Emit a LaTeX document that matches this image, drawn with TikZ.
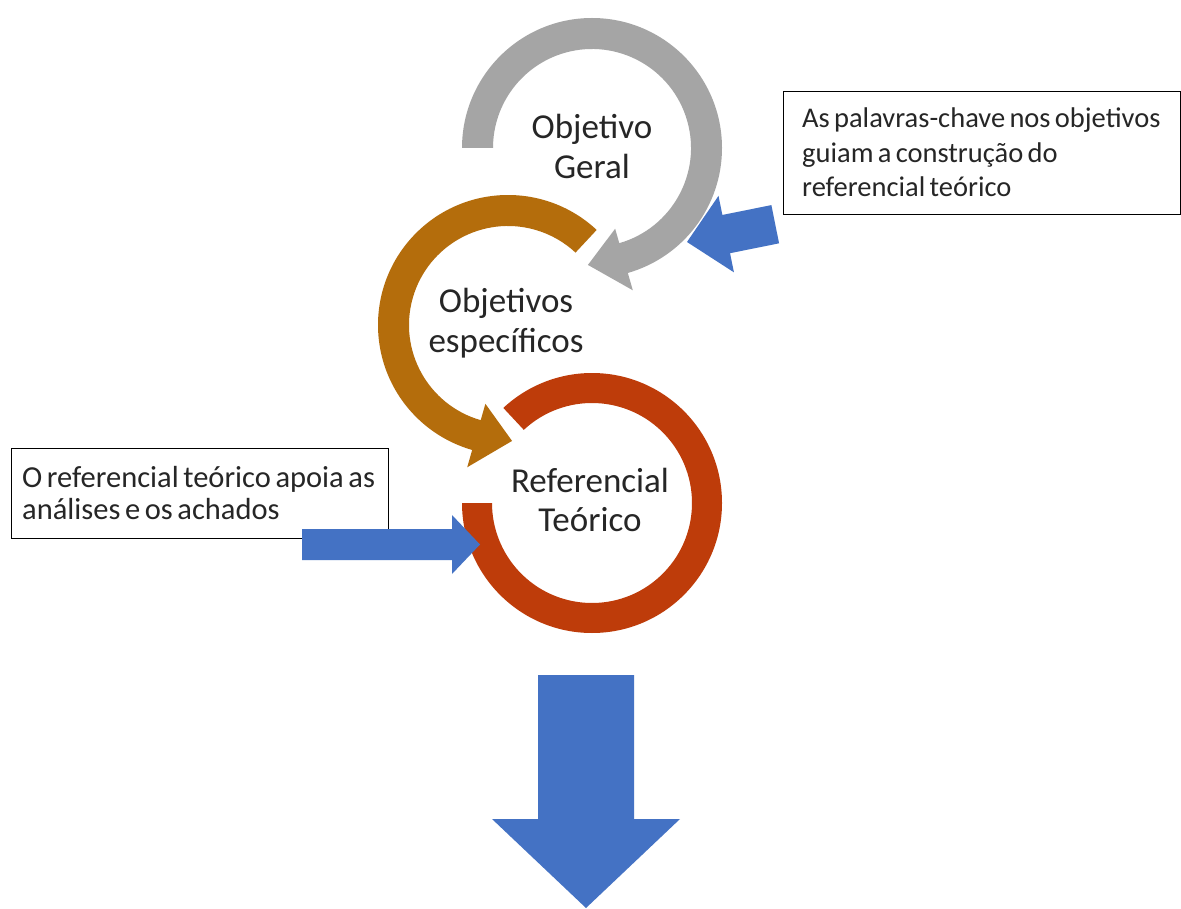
\documentclass[tikz,border=0pt]{standalone}
\usepackage{fontspec}
\setmainfont{Carlito}
\definecolor{graycol}{HTML}{A5A5A5}
\definecolor{orangecol}{HTML}{B46D0C}
\definecolor{redcol}{HTML}{BE3C0A}
\definecolor{bluecol}{HTML}{4472C4}
\definecolor{txtcol}{HTML}{262626}
\tikzset{
  ringlabel/.style={text=txtcol, align=center, text width=220pt, inner sep=0pt, anchor=base,
    font=\fontsize{35}{39.5}\selectfont},
  notebox/.style={draw=black, line width=1.1pt, fill=white, inner sep=0pt, anchor=north west},
  notetext/.style={text=txtcol, align=left, text width=420pt, inner sep=0pt, anchor=base west},
  bluearrow/.style={fill=bluecol, draw=none}
}
\begin{document}
\begin{tikzpicture}[x=1pt,y=1pt]
\useasboundingbox[fill=white] (0,0) rectangle (1181,-909);

% gray ring (Objetivo Geral), clockwise with arrowhead
\begin{scope}[shift={(592,-148)}]
  \fill[graycol] (180:130pt) arc[start angle=180, end angle=-74, radius=130pt]
    -- (-74:148pt) -- (-92:117pt) -- (-74:84pt) -- (-74:99pt)
    arc[start angle=-74, end angle=180, radius=99pt] -- cycle;
  \coordinate (cg) at (0,0);
\end{scope}

% orange ring (Objetivos especificos), counterclockwise with arrowhead
\begin{scope}[shift={(508,-325)}]
  \fill[orangecol] (47:130pt) arc[start angle=47, end angle=254, radius=130pt]
    -- (254:148pt) -- (272:116pt) -- (254:82pt) -- (254:99pt)
    arc[start angle=254, end angle=47, radius=99pt] -- cycle;
  \coordinate (co) at (0,0);
\end{scope}

% red ring (Referencial Teorico)
\begin{scope}[shift={(592,-503)}]
  \fill[redcol] (180:130pt) arc[start angle=180, end angle=493, radius=130pt]
    -- (493:100pt) arc[start angle=493, end angle=180, radius=100pt] -- cycle;
  \coordinate (cr) at (0,0);
\end{scope}

% ring labels
\node[ringlabel] (og) at (592,-139) {Objetivo\\Geral};
\node[ringlabel] (oe) at (506,-313) {Objetivos\\específicos};
\node[ringlabel] (rt) at (590,-492) {Referencial\\Teórico};

% note boxes
\node[notebox, minimum width=397pt, minimum height=123pt] (kbox) at (783,-91) {};
\node[notetext, font=\fontsize{28.5}{34.5}\selectfont] (ktxt) at (802,-128)
  {\spaceskip=4.3pt\relax As palavras-chave nos objetivos\\guiam a construção do\\referencial teórico};

\node[notebox, minimum width=377pt, minimum height=90pt] (lbox) at (11,-448) {};
\node[notetext, font=\fontsize{30.5}{32}\selectfont] (ltxt) at (22,-487)
  {\spaceskip=4.6pt\relax O referencial teórico apoia as\\análises e os achados};

% blue arrow pointing at the gray ring
\begin{scope}[shift={(687,-242)}, rotate=191.4]
  \fill[bluearrow] (0,0) -- (-40,39) -- (-40,19.5) -- (-90,19.5) -- (-90,-19.5)
    -- (-40,-19.5) -- (-40,-39) -- cycle;
\end{scope}

% blue arrow pointing at the red ring
\fill[bluearrow] (302,-529) -- (452,-529) -- (452,-515) -- (480,-544.5) -- (452,-574)
  -- (452,-560) -- (302,-560) -- cycle;

% big down arrow
\fill[bluearrow] (538,-675) -- (634,-675) -- (634,-819) -- (680,-819) -- (586,-908)
  -- (492,-819) -- (538,-819) -- cycle;
\end{tikzpicture}
\end{document}
